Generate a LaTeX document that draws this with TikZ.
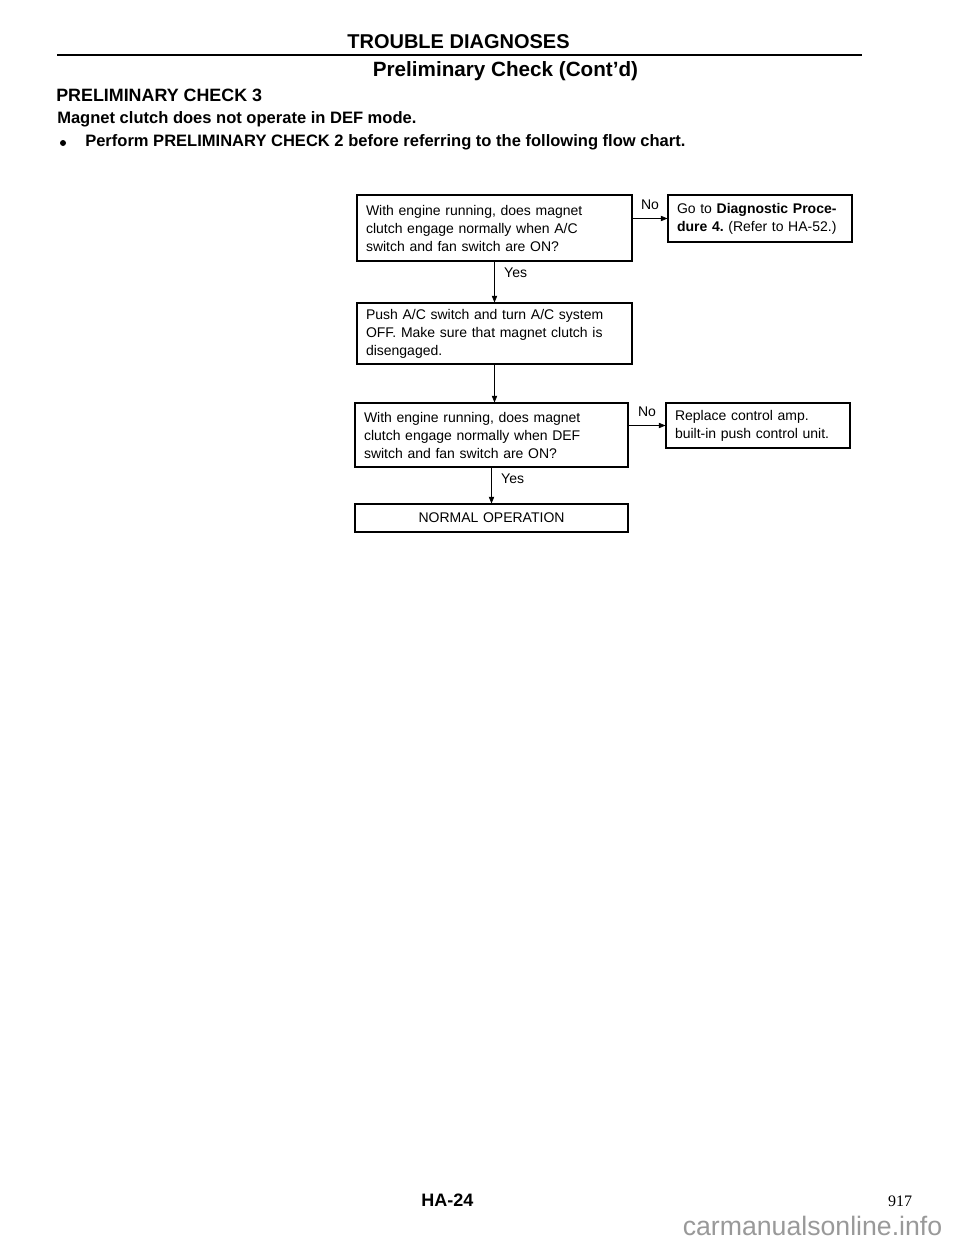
\documentclass[tikz,border=0pt]{standalone}
\usepackage{fontspec}
\setmainfont{Liberation Sans}
\newfontfamily\serifnum{Liberation Serif}
\usepackage{tikz}
\usetikzlibrary{positioning,arrows.meta}
\frenchspacing

\begin{document}
\begin{tikzpicture}[x=0.75pt,y=-0.75pt,
  box/.style={rectangle,draw,line width=0.8pt,inner xsep=6.75pt,inner ysep=0pt,font=\fontsize{10.5}{13.5}\selectfont,align=left},
  arr/.style={-{Triangle[length=5pt,width=4pt]},line width=0.6pt},
  lbl/.style={font=\fontsize{10.5}{13.5}\selectfont,inner sep=1pt},
  head/.style={font=\bfseries\fontsize{12.4}{15}\selectfont,inner sep=0pt,anchor=west}]
  \fill[white] (0,0) rectangle (960,1242);
  \useasboundingbox (0,0) rectangle (960,1242);
  \node[font=\bfseries\fontsize{15}{18}\selectfont,inner sep=0pt](title) at (458.5,42){TROUBLE DIAGNOSES};
  \draw[line width=2pt](57,55)--(862,55);
  \node[font=\bfseries\fontsize{15.5}{18}\selectfont,inner sep=0pt](sub) at (505.5,71){Preliminary Check (Cont'd)};
  \node[head,font=\bfseries\fontsize{13.4}{15}\selectfont](pc) at (56,95){PRELIMINARY CHECK 3};
  \node[head](mag) at (57,119){Magnet clutch does not operate in DEF mode.};
  \node[circle,fill,inner sep=0pt,minimum width=4.5pt,minimum height=4.5pt](bul) at (63,143){};
  \node[head](perf) at (85,142){Perform PRELIMINARY CHECK 2 before referring to the following flow chart.};
  \node[box,text width=192.75pt,minimum height=49.5pt](q1) at (494.5,228){With engine running, does magnet\\clutch engage normally when A/C\\switch and fan switch are ON?};
  \node[box,text width=124.5pt,minimum height=35.25pt](go) at (760,218.5){Go to \textbf{Diagnostic Proce-}\\\textbf{dure 4.} (Refer to HA-52.)};
  \node[box,text width=192.75pt,minimum height=45.75pt](push) at (494.5,333.5){Push A/C switch and turn A/C system\\OFF. Make sure that magnet clutch is\\disengaged.};
  \node[box,text width=191.25pt,minimum height=48pt](q2) at (491.5,435){With engine running, does magnet\\clutch engage normally when DEF\\switch and fan switch are ON?};
  \node[box,text width=124.5pt,minimum height=33.75pt](repl) at (758,425.5){Replace control amp.\\built-in push control unit.};
  \node[box,text width=191.25pt,minimum height=21pt,align=center](ok) at (491.5,518){NORMAL OPERATION};
  \draw[arr](q1.east |- go.west)--node[lbl,above=5pt]{No}(go.west);
  \draw[arr](q1)--node[lbl,right=6pt,pos=0.27]{Yes}(push);
  \draw[arr](push.south)--(push.south |- q2.north);
  \draw[arr](q2.east |- repl.west)--node[lbl,above=5pt]{No}(repl.west);
  \draw[arr](q2)--node[lbl,right=6pt,pos=0.3]{Yes}(ok);
  \node[font=\bfseries\fontsize{13.5}{16}\selectfont,inner sep=0pt](pg) at (447.5,1200){HA-24};
  \node[font=\serifnum\fontsize{12}{14}\selectfont,inner sep=0pt](num) at (900,1201){917};
  \node[font=\fontsize{20}{24}\selectfont,text=black!40,inner sep=0pt](wm) at (812.5,1226){carmanualsonline.info};
\end{tikzpicture}
\end{document}
